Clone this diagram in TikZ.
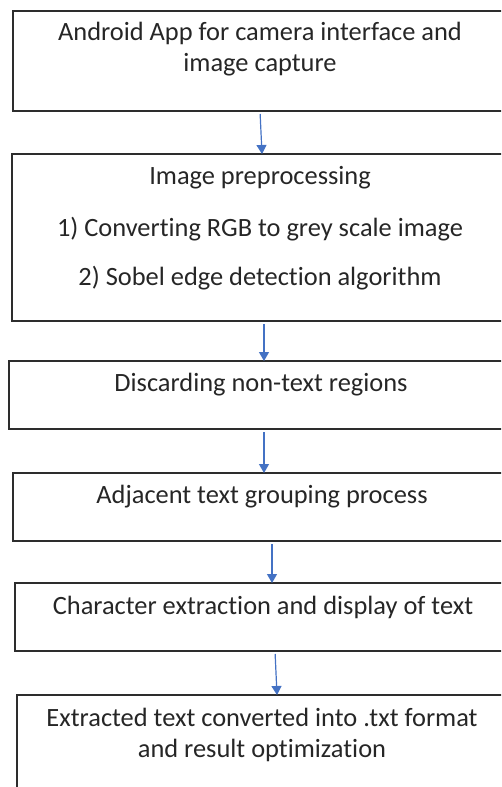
\documentclass[tikz,border=0pt]{standalone}
\usepackage{fontspec}
\setmainfont{Carlito}[Ligatures={NoCommon}]
\usetikzlibrary{arrows.meta}
\definecolor{flowblue}{RGB}{68,114,196}
\definecolor{boxline}{RGB}{45,45,45}
\tikzstyle{box}=[draw=boxline,line width=1.5pt,anchor=north west,inner sep=0pt,outer sep=0pt]
\tikzstyle{txt}=[text=black!85,font=\fontsize{26.4}{31}\selectfont,inner sep=0pt,align=center]
\tikzstyle{flow}=[draw=flowblue,line width=1.2pt,shorten <=3pt,-{Triangle[length=9pt,width=10pt]}]

\begin{document}
\begin{tikzpicture}[x=1pt,y=-1pt]
\useasboundingbox (0,0) rectangle (501,787);
\clip (0,0) rectangle (501,787);
% boxes, cut at the right edge
\node[box,minimum width=503pt,minimum height=100pt] (b1) at (13,11) {};
\node[box,minimum width=504pt,minimum height=167pt] (b2) at (12,154) {};
\node[box,minimum width=507pt,minimum height=68pt] (b3) at (9,361) {};
\node[box,minimum width=503pt,minimum height=68pt] (b4) at (13,473) {};
\node[box,minimum width=501pt,minimum height=68pt] (b5) at (15,583) {};
\node[box,minimum width=499pt,minimum height=110pt] (b6) at (17,695) {};

% texts
\node[txt] (t1) at (260,49) {Android App for camera interface and\\image capture};
\node[txt] (t2a) at (260,178) {Image preprocessing};
\node[txt] (t2b) at (260,229) {1) Converting RGB to grey scale image};
\node[txt] (t2c) at (260,278) {2) Sobel edge detection algorithm};
\node[txt] (t3) at (261,385) {Discarding non-text regions};
\node[txt] (t4) at (262,497) {Adjacent text grouping process};
\node[txt] (t5) at (263,607) {Character extraction and display of text};
\node[txt] (t6) at (262,735) {Extracted text converted into .txt format\\and result optimization};

% arrows
\draw[flow] (260,0 |- b1.south) -- (262,0 |- b2.north);
\draw[flow] (264,0 |- b2.south) -- (264,0 |- b3.north);
\draw[flow] (264,0 |- b3.south) -- (264,0 |- b4.north);
\draw[flow] (272,0 |- b4.south) -- (272,0 |- b5.north);
\draw[flow] (275,0 |- b5.south) -- (277,0 |- b6.north);
\end{tikzpicture}
\end{document}
